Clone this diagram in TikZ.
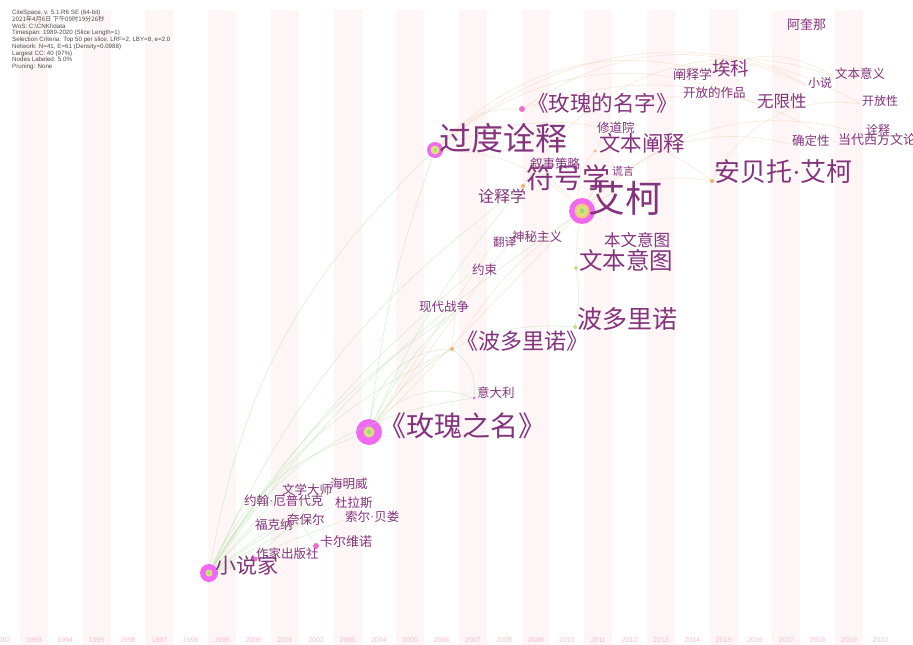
\documentclass[tikz,border=0pt]{standalone}
\usepackage{fontspec}
\setmainfont{Liberation Sans}
\newfontfamily\cjk{Noto Sans CJK SC}
\newfontfamily\latn{Liberation Serif}
\newcommand\fsz[1]{\fontsize{#1}{#1}\selectfont}
\newcommand\mdt{{\latn\textperiodcentered}}
\definecolor{labc}{RGB}{132,52,125}
\definecolor{ringc}{RGB}{240,105,240}
\definecolor{innery}{RGB}{215,225,125}
\definecolor{innero}{RGB}{245,195,130}
\definecolor{innerg}{RGB}{160,215,120}
\definecolor{stripec}{RGB}{254,245,247}
\definecolor{yearc}{RGB}{250,190,205}
\definecolor{egc}{RGB}{180,228,170}
\definecolor{eoc}{RGB}{242,205,165}
\definecolor{dotor}{RGB}{245,175,110}
\definecolor{dotpk}{RGB}{240,110,200}
\definecolor{dotgr}{RGB}{200,225,130}
\tikzset{
  lab/.style={text=labc, inner sep=0pt, anchor=west},
  ringdot/.style={circle, fill=ringc, inner sep=0pt, minimum size=#1},
  smalldot/.style={circle, fill=#1, inner sep=0pt, minimum size=4pt},
  hid/.style={inner sep=0pt, minimum size=1pt},
  eg/.style={draw=egc, line width=0.6pt, opacity=0.5},
  eo/.style={draw=eoc, line width=0.6pt, opacity=0.45},
  yearlab/.style={text=yearc, font=\fsz{7}, inner sep=0pt},
}
\begin{document}
\begin{tikzpicture}[x=1pt,y=-1pt]
\useasboundingbox (0,0) rectangle (913,645);
\clip (0,0) rectangle (913,645);
\fill[white] (0,0) rectangle (913,645);
% year stripes
\foreach \i in {0,2,...,26} {
  \fill[stripec] ({34+\i*31.35-14},10) rectangle ({34+\i*31.35+14},645);
}
\foreach \yr [count=\k from -1] in {1992,1993,...,2020} {
  \node[yearlab] (yr\yr) at ({34+\k*31.35},640) {\yr};
}
% header
\node[anchor=north west, inner sep=0pt, align=left, text=black!70, font=\fontsize{6.2}{6.75}\selectfont] (hdr) at (12,10) {%
CiteSpace, v. 5.1.R6 SE (64-bit)\\
{\cjk 2021年4月6日 下午09时19分26秒}\\
WoS: C:\textbackslash CNKI\textbackslash data\\
Timespan: 1989-2020 (Slice Length=1)\\
Selection Criteria: Top 50 per slice, LRF=2, LBY=8, e=2.0\\
Network: N=41, E=61 (Density=0.0988)\\
Largest CC: 40 (97\%)\\
Nodes Labeled: 5.0\%\\
Pruning: None};

% ---------- node dots ----------
\node[ringdot=18pt] (xsj) at (209,573) {};
\node[ringdot=26pt] (mgzm) at (369,432) {};
\node[ringdot=26pt] (ak) at (582,211) {};
\node[ringdot=16pt] (gdqs) at (435,150) {};
\node[smalldot=dotor] (fhx) at (523,186) {};
\node[smalldot=dotpk, minimum size=6pt] (mgdmz) at (522,109) {};
\node[smalldot=dotor] (abtak) at (712,181) {};
\node[smalldot=dotgr] (wbyt) at (576,268) {};
\node[smalldot=dotgr] (bdln) at (575,327) {};
\node[smalldot=dotor] (bdln2) at (452,349) {};
\node[smalldot=dotor, minimum size=3pt] (wbcs) at (595,151) {};
\node[smalldot=dotpk, minimum size=3pt] (ydl) at (474,398) {};
\node[smalldot=dotpk, minimum size=6pt] (kewn) at (316,546) {};
\node[smalldot=dotpk, minimum size=5pt] (zjcbs) at (255,559) {};
\node[hid] (ak2) at (711,72) {};
\node[hid] (cst) at (672,78) {};
\node[hid] (kfdzp) at (682,96) {};
\node[hid] (wxx) at (756,104) {};
\node[hid] (xs) at (807,86) {};
\node[hid] (wbyy) at (834,77) {};
\node[hid] (kfx) at (861,104) {};
\node[hid] (qdx) at (790,144) {};
\node[hid] (ddxf) at (837,143) {};
\node[hid] (qs) at (865,134) {};
\node[hid] (akn) at (786,28) {};
\node[hid] (xdy) at (596,131) {};
\node[hid] (xscl) at (529,167) {};
\node[hid] (hy) at (611,173) {};
\node[hid] (qsx) at (524,190) {};
\node[hid] (smzy) at (511,240) {};
\node[hid] (fy) at (492,245) {};
\node[hid] (bwyt) at (603,243) {};
\node[hid] (ys) at (471,273) {};
\node[hid] (xdzz) at (455,312) {};
\node[hid] (wxds) at (281,493) {};
\node[hid] (hmw) at (329,487) {};
\node[hid] (yhepdk) at (243,503) {};
\node[hid] (dls) at (334,506) {};
\node[hid] (sebl) at (344,520) {};
\node[hid] (nbe) at (286,523) {};
\node[hid] (fkn) at (254,527) {};

% ---------- edges ----------
\draw[eg] (xsj) to[bend left=18] (gdqs);
\draw[eg] (xsj) to[bend left=14] (fhx);
\draw[eg] (xsj) to[bend left=10] (ak);
\draw[eg] (xsj) to[bend left=22] (mgzm);
\draw[eg] (xsj) to[bend left=16] (bdln2);
\draw[eg] (xsj) to[bend left=12] (xdzz);
\draw[eg] (xsj) to[bend left=8] (ys);
\draw[eg] (xsj) to[bend left=25] (ydl);
\draw[eg] (xsj) -- (wxds);
\draw[eg] (xsj) -- (hmw);
\draw[eg] (xsj) -- (yhepdk);
\draw[eg] (xsj) -- (dls);
\draw[eg] (xsj) -- (sebl);
\draw[eg] (xsj) -- (nbe);
\draw[eg] (xsj) -- (fkn);
\draw[eg] (xsj) -- (kewn);
\draw[eg] (xsj) -- (zjcbs);
\draw[eg] (zjcbs) -- (hmw);
\draw[eg] (kewn) -- (wxds);
\draw[eg] (mgzm) to[bend left=35] (ydl);
\draw[eg] (mgzm) to[bend left=30] (bdln);
\draw[eg] (mgzm) to[bend left=8] (fhx);
\draw[eg] (mgzm) to[bend left=6] (gdqs);
\draw[eo] (mgzm) -- (ak);
\draw[eo] (mgzm) -- (smzy);
\draw[eo] (mgzm) -- (fy);
\draw[eg] (mgzm) to[bend left=10] (xdzz);
\draw[eg] (mgzm) to[bend left=40] (bdln2);
\draw[eo] (bdln2) -- (xdzz);
\draw[eg] (bdln2) to[bend left=30] (ydl);
\draw[eo] (bdln2) to[bend left=10] (ak);
\draw[eg] (bdln) to[bend right=10] (wbyt);
\draw[eo] (wbyt) to[bend left=5] (ak);
\draw[eo] (gdqs) to[bend left=30] (ak2);
\draw[eo] (gdqs) to[bend left=32] (wxx);
\draw[eo] (gdqs) to[bend left=30] (abtak);
\draw[eo] (gdqs) to[bend left=35] (kfx);
\draw[eo] (gdqs) to[bend left=25] (mgdmz);
\draw[eo] (gdqs) to[bend left=20] (ak);
\draw[eo] (fhx) to[bend left=40] (wbyy);
\draw[eo] (mgdmz) to[bend left=30] (xs);
\draw[eo] (mgdmz) to[bend left=25] (ddxf);
\draw[eo] (ak) to[bend left=25] (wbcs);
\draw[eo] (ak) to[bend left=20] (abtak);
\draw[eo] (ak) to[bend left=30] (qdx);
\draw[eo] (ak) to[bend left=30] (qs);
\draw[eo] (wbcs) to[bend left=30] (kfdzp);
\draw[eo] (abtak) to[bend left=35] (kfx);
\draw[eo] (ak2) to[bend left=30] (wbyy);
\draw[eo] (cst) to[bend left=30] (xs);
\draw[eg] (fhx) -- (qsx);
\draw[eo] (ak) to[bend right=10] (xscl);
\draw[eo] (ak) to[bend left=10] (hy);

% inner rings of big nodes
\fill[innery] (xsj.center) circle (3.5);
\fill[innerg] (xsj.center) circle (1.5);
\fill[innery] (mgzm.center) circle (5.5);
\fill[innerg] (mgzm.center) circle (2);
\fill[innero] (ak.center) circle (7.5);
\fill[innery] (ak.center) circle (5.5);
\fill[innerg] (ak.center) circle (2.5);
\fill[innery] (gdqs.center) circle (4.5);
\fill[innerg] (gdqs.center) circle (1.5);

% ---------- labels ----------
\node[lab, font=\cjk\fsz{21}] (xsj-l) at (215,565) {小说家};
\node[lab, font=\cjk\fsz{28}] (mgzm-l) at (378,426) {《玫瑰之名》};
\node[lab, font=\cjk\fsz{37}] (ak-l) at (588,198) {艾柯};
\node[lab, font=\cjk\fsz{32}] (gdqs-l) at (439,138) {过度诠释};
\node[lab, font=\cjk\fsz{28}] (fhx-l) at (526,178) {符号学};
\node[lab, font=\cjk\fsz{21.5}] (mgdmz-l) at (527,103) {《玫瑰的名字》};
\node[lab, font=\cjk\fsz{26}] (abtak-l) at (714,172) {安贝托\mdt 艾柯};
\node[lab, font=\cjk\fsz{23.5}] (wbyt-l) at (579,260) {文本意图};
\node[lab, font=\cjk\fsz{25}] (bdln-l) at (577,319) {波多里诺};
\node[lab, font=\cjk\fsz{22}] (bdln2-l) at (456,341) {《波多里诺》};
\node[lab, font=\cjk\fsz{21.5}] (wbcs-l) at (599,143) {文本阐释};
\node[lab, font=\cjk\fsz{12.5}] (ydl-l) at (477,393) {意大利};
\node[lab, font=\cjk\fsz{13}] (kewn-l) at (320,542) {卡尔维诺};
\node[lab, font=\cjk\fsz{12.5}] (zjcbs-l) at (256,554) {作家出版社};
\node[lab, font=\cjk\fsz{18.5}] (ak2-l) at (712,68) {埃科};
\node[lab, font=\cjk\fsz{13}] (cst-l) at (673,75) {阐释学};
\node[lab, font=\cjk\fsz{12.5}] (kfdzp-l) at (683,93) {开放的作品};
\node[lab, font=\cjk\fsz{16.5}] (wxx-l) at (757,101) {无限性};
\node[lab, font=\cjk\fsz{12}] (xs-l) at (808,83) {小说};
\node[lab, font=\cjk\fsz{12.5}] (wbyy-l) at (835,74) {文本意义};
\node[lab, font=\cjk\fsz{12}] (kfx-l) at (862,101) {开放性};
\node[lab, font=\cjk\fsz{12.5}] (qdx-l) at (792,141) {确定性};
\node[lab, font=\cjk\fsz{13}] (ddxf-l) at (838,140) {当代西方文论};
\node[lab, font=\cjk\fsz{12}] (qs-l) at (866,130) {诠释};
\node[lab, font=\cjk\fsz{13}] (akn-l) at (787,25) {阿奎那};
\node[lab, font=\cjk\fsz{12.5}] (xdy-l) at (597,128) {修道院};
\node[lab, font=\cjk\fsz{12.5}] (xscl-l) at (530,164) {叙事策略};
\node[lab, font=\cjk\fsz{11}] (hy-l) at (612,171) {谎言};
\node[lab, font=\cjk\fsz{16}] (qsx-l) at (478,196) {诠释学};
\node[lab, font=\cjk\fsz{12.5}] (smzy-l) at (512,237) {神秘主义};
\node[lab, font=\cjk\fsz{11.5}] (fy-l) at (493,242) {翻译};
\node[lab, font=\cjk\fsz{16.5}] (bwyt-l) at (604,240) {本文意图};
\node[lab, font=\cjk\fsz{12.5}] (ys-l) at (472,270) {约束};
\node[lab, font=\cjk\fsz{12.5}] (xdzz-l) at (419,307) {现代战争};
\node[lab, font=\cjk\fsz{12.5}] (wxds-l) at (282,490) {文学大师};
\node[lab, font=\cjk\fsz{12.5}] (hmw-l) at (330,484) {海明威};
\node[lab, font=\cjk\fsz{12.5}] (yhepdk-l) at (244,501) {约翰\mdt 厄普代克};
\node[lab, font=\cjk\fsz{12.5}] (dls-l) at (335,503) {杜拉斯};
\node[lab, font=\cjk\fsz{12.5}] (sebl-l) at (345,517) {索尔\mdt 贝娄};
\node[lab, font=\cjk\fsz{12.5}] (nbe-l) at (287,520) {奈保尔};
\node[lab, font=\cjk\fsz{12.5}] (fkn-l) at (255,525) {福克纳};
\end{tikzpicture}
\end{document}
